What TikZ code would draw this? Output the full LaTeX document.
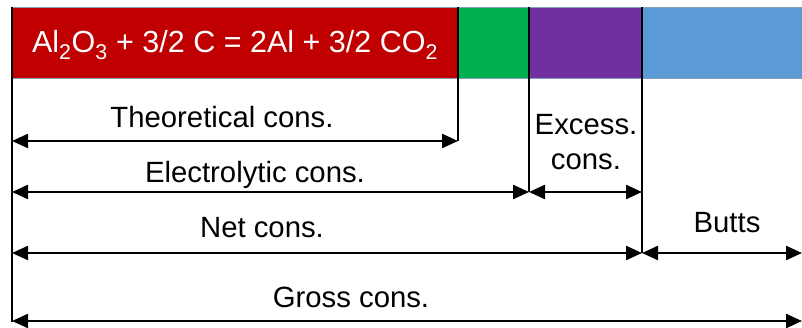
\documentclass[tikz,border=0pt]{standalone}
\usepackage{fontspec}
\setmainfont{Liberation Sans}
\usetikzlibrary{arrows.meta}
\definecolor{barred}{HTML}{C00000}
\definecolor{bargreen}{HTML}{00B050}
\definecolor{barpurple}{HTML}{7030A0}
\definecolor{barblue}{HTML}{5B9BD5}
\definecolor{baredge}{HTML}{7F9DB9}
\tikzset{
  dimboth/.style={line width=2.3pt, {Triangle[length=16pt,width=14pt]}-{Triangle[length=16pt,width=14pt]}},
  guide/.style={line width=2pt},
  lbl/.style={font=\fontsize{29.3}{33}\selectfont, anchor=base, inner sep=0pt},
}
\begin{document}
\begin{tikzpicture}[x=1pt,y=-1pt]
\useasboundingbox (0,0) rectangle (802,328);
% bar segments
\fill[barred] (12,7) rectangle (458,78);
\fill[bargreen] (458,7) rectangle (529,78);
\fill[barpurple] (529,7) rectangle (642,78);
\fill[barblue] (642,7) rectangle (803,78);
\draw[baredge, line width=0.8pt] (12,7) -- (803,7) (12,78) -- (803,78);
\node[lbl, text=white, font=\fontsize{30.5}{34}\selectfont] (eq) at (235,53) {Al\textsubscript{2}O\textsubscript{3} + 3/2 C = 2Al + 3/2 CO\textsubscript{2}};
% coordinates
\coordinate (L0) at (12,7);
\coordinate (L1) at (12,322);
\coordinate (T0) at (458,7);
\coordinate (T1) at (458,141);
\coordinate (E0) at (529,7);
\coordinate (E1) at (529,192);
\coordinate (N0) at (642,7);
\coordinate (N1) at (642,253);
\coordinate (R1) at (802,253);
\coordinate (R2) at (802,321);
\coordinate (Lt) at (12,141);
\coordinate (Le) at (12,192);
\coordinate (Ln) at (12,253);
\coordinate (Lg) at (12,321);
% guide lines
\draw[guide] (L0) -- (L1);
\draw[guide] (T0) -- (T1);
\draw[guide] (E0) -- (E1);
\draw[guide] (N0) -- (N1);
% dimension arrows
\draw[dimboth] (Lt) -- (T1);
\draw[dimboth] (Le) -- (E1);
\draw[dimboth] (E1) -- (N1 |- E1);
\draw[dimboth] (Ln) -- (N1);
\draw[dimboth] (N1) -- (R1);
\draw[dimboth] (Lg) -- (R2);
% labels
\node[lbl] (theo) at (222,128) {Theoretical cons.};
\node[lbl] (elec) at (255,183) {Electrolytic cons.};
\node[lbl] (exc1) at (586,135) {Excess.};
\node[lbl] (exc2) at (586,170) {cons.};
\node[lbl] (net) at (262,238) {Net cons.};
\node[lbl] (butts) at (727,233) {Butts};
\node[lbl] (gross) at (351,307) {Gross cons.};
\end{tikzpicture}
\end{document}
